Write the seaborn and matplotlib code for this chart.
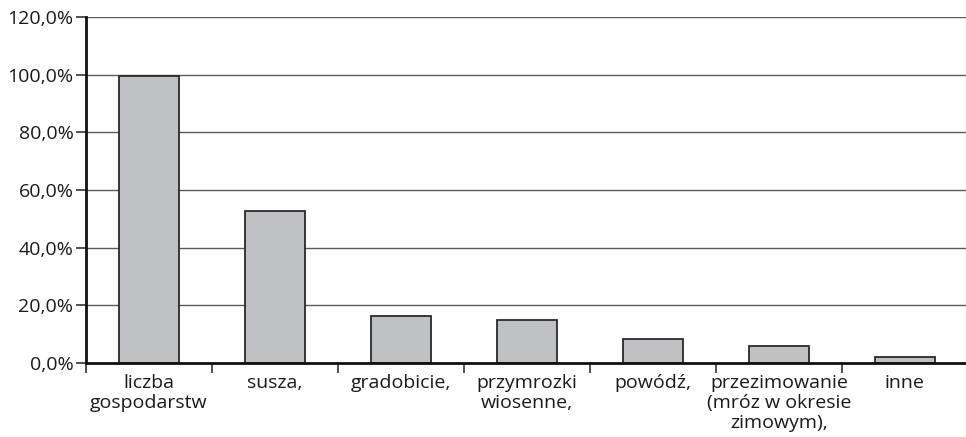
import matplotlib
matplotlib.use("Agg")
import matplotlib.pyplot as plt
import matplotlib.ticker as mticker
import seaborn as sns
import numpy as np
import pandas as pd

# values (percent)
categories = ["liczba\ngospodarstw", "susza,", "gradobicie,", "przymrozki\nwiosenne,",
              "powódź,", "przezimowanie\n(mróz w okresie\nzimowym),", "inne"]
values = [99.6, 52.7, 16.3, 14.8, 8.4, 5.9, 2.0]
y_ticks = [0, 20, 40, 60, 80, 100, 120]

sns.set_style("white")
plt.rcParams['font.family'] = ['Open Sans', 'DejaVu Sans']

df = pd.DataFrame({"kategoria": categories, "udzial": values})

fig = plt.figure(figsize=(9.66, 4.37), dpi=100)
ax = fig.add_axes([0.089, 0.169, 0.913, 0.792])

sns.barplot(data=df, x="kategoria", y="udzial", color="#bfc0c3", width=0.47,
            edgecolor="#2a2a2a", linewidth=1.3, saturation=1, ax=ax, zorder=3)

ax.set_ylim(0, 120)
ax.set_xlim(-0.5, len(categories) - 0.5)
ax.set_yticks(y_ticks)
ax.yaxis.set_major_formatter(mticker.FuncFormatter(lambda v, p: f"{v:.1f}%".replace(".", ",")))
ax.yaxis.grid(True, color="#5a5a5a", linewidth=1.0, zorder=0)
ax.set_axisbelow(True)

for s in ["top", "right"]:
    ax.spines[s].set_visible(False)
ax.spines["left"].set_color("#111111")
ax.spines["left"].set_linewidth(2.0)
ax.spines["bottom"].set_color("#111111")
ax.spines["bottom"].set_linewidth(2.0)
ax.spines["bottom"].set_zorder(4)

ax.tick_params(axis="y", left=True, length=7, width=1.2, color="#333333",
               labelsize=14, pad=2, labelcolor="#1a1a1a")
ax.tick_params(axis="x", which="major", length=0, labelsize=14, pad=8, labelcolor="#1a1a1a")
ax.set_xticks(np.arange(-0.5, len(categories) - 0.5, 1), minor=True)
ax.tick_params(axis="x", which="minor", bottom=True, length=7, width=1.2, color="#333333")
for lbl in ax.get_xticklabels():
    lbl.set_linespacing(1.15)

ax.set_xlabel("")
ax.set_ylabel("")

plt.savefig("out.png", dpi=100)
